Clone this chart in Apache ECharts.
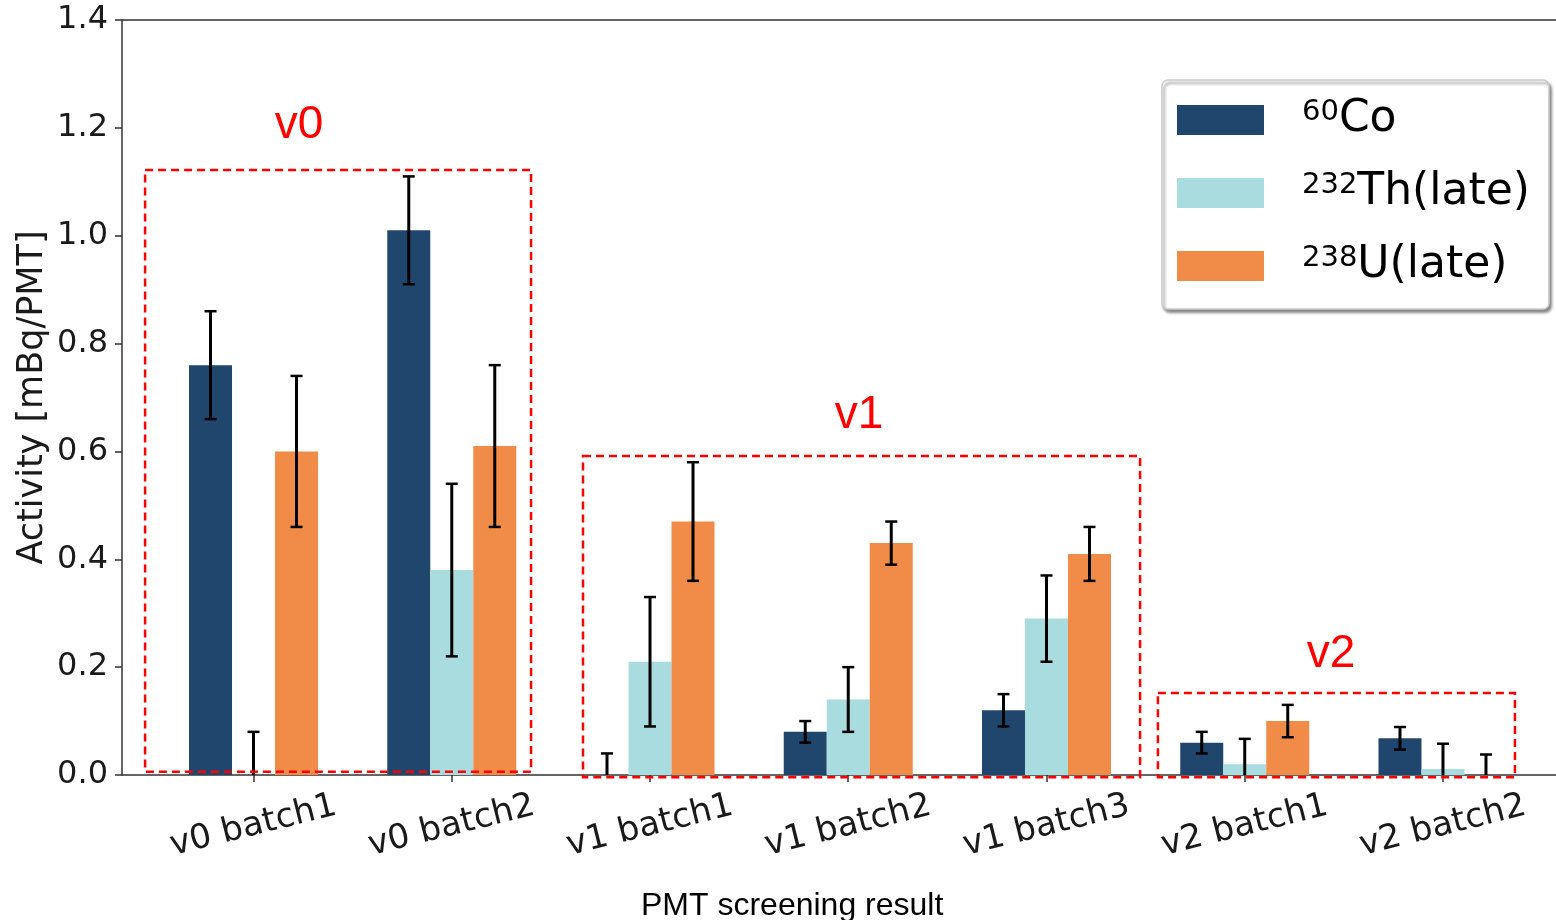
<!DOCTYPE html>
<html><head><meta charset="utf-8">
<script src="https://cdn.jsdelivr.net/npm/echarts@6/dist/echarts.min.js"></script>
<style>html,body{margin:0;padding:0;background:#fff}#c{width:1556px;height:920px}</style>
</head><body><div id="c"></div>
<script>
// ---- data ----
const categories = ['v0 batch1','v0 batch2','v1 batch1','v1 batch2','v1 batch3','v2 batch1','v2 batch2'];
const seriesNames = ['60Co','232Th(late)','238U(late)'];
const massNumbers = ['60','232','238'];
const elementLabels = ['Co','Th(late)','U(late)'];
const co    = [0.76, 1.01, 0.00, 0.08, 0.12, 0.06, 0.068];
const coErr = [0.10, 0.10, 0.04, 0.02, 0.03, 0.02, 0.021];
const th    = [0.00, 0.38, 0.21, 0.14, 0.29, 0.02, 0.011];
const thErr = [0.08, 0.16, 0.12, 0.06, 0.08, 0.047, 0.047];
const u     = [0.60, 0.61, 0.47, 0.43, 0.41, 0.10, 0.00];
const uErr  = [0.14, 0.15, 0.11, 0.04, 0.05, 0.03, 0.038];
const yTickLabels = ['0.0','0.2','0.4','0.6','0.8','1.0','1.2','1.4'];
const groupLabels = ['v0','v1','v2'];
// boxes in data units: [xStart, xEnd, yStart, yEnd]
const groupBoxes = [[-0.547, 1.400, 0.006, 1.122],[1.662, 4.472, -0.004, 0.5915],[4.562, 6.363, -0.004, 0.152]];
const groupLabelPos = [[0.23, 1.205],[3.054, 0.667],[5.435, 0.224]];
const xTitle = 'PMT screening result';
const yTitle = 'Activity [mBq/PMT]';

// ---- style ----
const colors = ['#21466e','#a8dcdf','#f08c48'];
const BAR_W = 43;
const FONT = 'DejaVu Sans';

const values = [co, th, u];
const errs = [coErr, thErr, uErr];

const chart = echarts.init(document.getElementById('c'), null, {renderer:'canvas'});

const barSeries = seriesNames.map((n, s) => ({
  type:'bar', name:n, xAxisIndex:2, yAxisIndex:1,
  data: values[s], barWidth: BAR_W, barGap:'0%',
  itemStyle:{color:colors[s]}, z:2
}));

const errSeries = seriesNames.map((n, s) => ({
  type:'custom', name:'err'+s, xAxisIndex:2, yAxisIndex:1, z:5,
  data: categories.map((c, i) => [i, values[s][i], errs[s][i]]),
  encode:{x:0, y:1},
  renderItem: function(params, api){
    const i = api.value(0), v = api.value(1), e = api.value(2);
    const xc = api.coord([i, 0])[0] + (s - 1) * BAR_W;
    const yTop = api.coord([i, v + e])[1];
    const lo = Math.max(0, v - e);
    const yBot = api.coord([i, lo])[1];
    const st = {stroke:'#000', lineWidth:3};
    const ch = [
      {type:'line', shape:{x1:xc, y1:yTop, x2:xc, y2:yBot}, style:st},
      {type:'line', shape:{x1:xc-6, y1:yTop, x2:xc+6, y2:yTop}, style:{stroke:'#000', lineWidth:2.5}}
    ];
    if (v - e >= 0) ch.push({type:'line', shape:{x1:xc-6, y1:yBot, x2:xc+6, y2:yBot}, style:{stroke:'#000', lineWidth:2.5}});
    return {type:'group', children:ch};
  }
}));

const boxSeries = {
  type:'custom', name:'groups', xAxisIndex:3, yAxisIndex:1, z:6,
  data: groupBoxes.map((b, k) => [b[0], b[1], b[2], b[3], groupLabelPos[k][0], groupLabelPos[k][1]]),
  encode:{x:[0,1,4], y:[2,3,5]},
  renderItem: function(params, api){
    const p0 = api.coord([api.value(0), api.value(3)]);
    const p1 = api.coord([api.value(1), api.value(2)]);
    const lp = api.coord([api.value(4), api.value(5)]);
    return {type:'group', children:[
      {type:'rect', shape:{x:p0[0], y:p0[1], width:p1[0]-p0[0], height:p1[1]-p0[1]},
       style:{fill:'none', stroke:'#ff0000', lineWidth:2.5, lineDash:[8,5]}},
      {type:'text', x:lp[0], y:lp[1], style:{text:groupLabels[params.dataIndex], fill:'#ff0000',
       font:'46px "Liberation Sans", Arial, sans-serif', align:'center', verticalAlign:'middle'}}
    ]};
  }
};

const option = {
  animation:false,
  backgroundColor:'#fff',
  title:{text:xTitle, left:636, top:885,
    textStyle:{fontFamily:'Liberation Sans', fontSize:32, fontWeight:'normal', color:'#000'}},
  legend:{
    data: seriesNames, orient:'vertical', left:1162, top:80,
    itemWidth:87, itemHeight:30, itemGap:29, icon:'rect', selectedMode:false,
    backgroundColor:'#fff', borderColor:'#cccccc', borderWidth:1.5, borderRadius:6,
    shadowColor:'rgba(0,0,0,0.45)', shadowBlur:3, shadowOffsetX:2, shadowOffsetY:3,
    padding:[18, 19, 21, 15],
    formatter: function(name){ const k = seriesNames.indexOf(name); return '{sup|' + massNumbers[k] + '}{el|' + elementLabels[k] + '}'; },
    textStyle:{padding:[0,0,0,33], color:'#000',
      rich:{
        sup:{fontFamily:FONT, fontSize:29, lineHeight:17, verticalAlign:'top', color:'#000'},
        el:{fontFamily:FONT, fontSize:44, lineHeight:44, verticalAlign:'bottom', color:'#000'}
      }}
  },
  grid:[
    {left:122, right:0, top:20, bottom:145, outerBoundsMode:'none', containLabel:false},
    {left:154.4, right:13.9, top:20, bottom:145, outerBoundsMode:'none', containLabel:false}
  ],
  xAxis:[
    {type:'value', gridIndex:0, min:0, max:1, position:'bottom', axisLine:{show:true, lineStyle:{color:'#333', width:1.5}},
     axisTick:{show:false}, axisLabel:{show:false}, splitLine:{show:false}},
    {type:'value', gridIndex:0, min:0, max:1, position:'top', axisLine:{show:true, lineStyle:{color:'#333', width:1.5}},
     axisTick:{show:false}, axisLabel:{show:false}, splitLine:{show:false}},
    {type:'category', gridIndex:1, data:categories, position:'bottom',
     axisLine:{show:false}, axisTick:{show:true, alignWithLabel:true, length:7, lineStyle:{color:'#333', width:1.5}},
     axisLabel:{interval:0, rotate:14, align:'center', verticalAlign:'middle', margin:51,
       fontFamily:FONT, fontSize:34, color:'#1a1a1a'}, splitLine:{show:false}},
    {type:'value', gridIndex:1, min:-0.5, max:6.5, show:false}
  ],
  yAxis:[
    {type:'value', gridIndex:0, min:0, max:1.4, interval:0.2,
     axisLine:{show:true, lineStyle:{color:'#333', width:1.5}},
     axisTick:{show:true, length:7, lineStyle:{color:'#333', width:1.5}},
     axisLabel:{fontFamily:FONT, fontSize:32, color:'#1a1a1a', margin:14,
       formatter:(v)=> yTickLabels[Math.round(v/0.2)]},
     splitLine:{show:false},
     name:yTitle, nameLocation:'middle', nameRotate:90, nameGap:72, nameMoveOverlap:false,
     nameTextStyle:{fontFamily:FONT, fontSize:35, color:'#1a1a1a'}},
    {type:'value', gridIndex:1, min:0, max:1.4, show:false}
  ],
  series:[...barSeries, ...errSeries, boxSeries]
};
chart.setOption(option);
</script></body></html>
